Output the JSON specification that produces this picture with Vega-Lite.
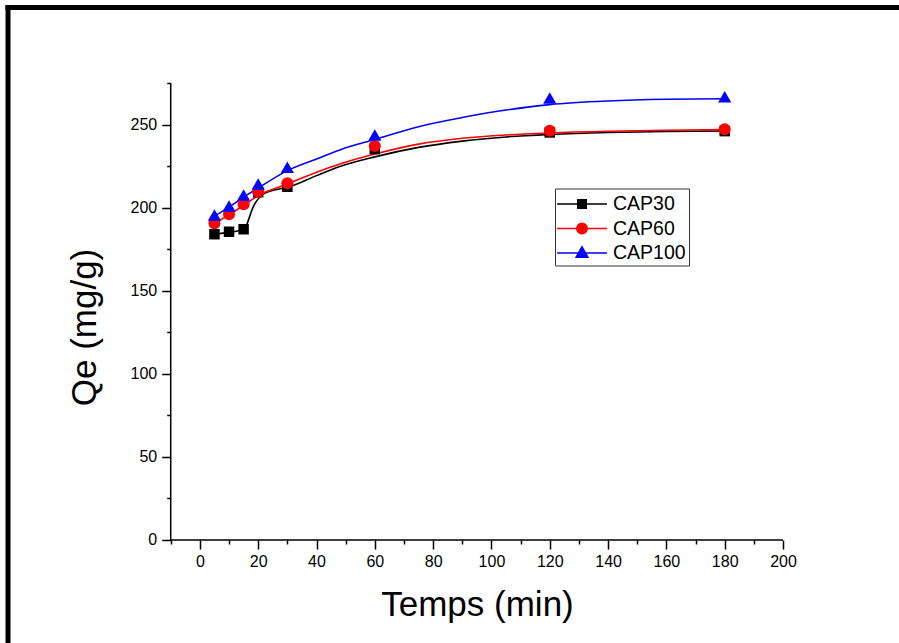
{
  "$schema": "https://vega.github.io/schema/vega-lite/v6.json",
  "width": 899,
  "height": 643,
  "autosize": {"type": "none"},
  "padding": 0,
  "background": "white",
  "config": {"view": {"stroke": null}, "font": "Liberation Sans"},
  "data": {"values": [{"frame": 1}]},
  "datasets": {
    "points": [
      {"series": "CAP30", "t": 5, "q": 184.2},
      {"series": "CAP30", "t": 10, "q": 185.7},
      {"series": "CAP30", "t": 15, "q": 187.2},
      {"series": "CAP30", "t": 20, "q": 209.5},
      {"series": "CAP30", "t": 30, "q": 212.8},
      {"series": "CAP30", "t": 60, "q": 235.5},
      {"series": "CAP30", "t": 120, "q": 245.5},
      {"series": "CAP30", "t": 180, "q": 246.3},
      {"series": "CAP60", "t": 5, "q": 190.8},
      {"series": "CAP60", "t": 10, "q": 196.2},
      {"series": "CAP60", "t": 15, "q": 202.2},
      {"series": "CAP60", "t": 20, "q": 209.8},
      {"series": "CAP60", "t": 30, "q": 214.9},
      {"series": "CAP60", "t": 60, "q": 237.3},
      {"series": "CAP60", "t": 120, "q": 246.6},
      {"series": "CAP60", "t": 180, "q": 247.4},
      {"series": "CAP100", "t": 5, "q": 195.8},
      {"series": "CAP100", "t": 10, "q": 201.2},
      {"series": "CAP100", "t": 15, "q": 207.8},
      {"series": "CAP100", "t": 20, "q": 214.5},
      {"series": "CAP100", "t": 30, "q": 224.5},
      {"series": "CAP100", "t": 60, "q": 244.0},
      {"series": "CAP100", "t": 120, "q": 266.3},
      {"series": "CAP100", "t": 180, "q": 267.0}
    ],
    "curves": [
      {"series": "CAP30", "t": 5, "q": 184.2},
      {"series": "CAP30", "t": 10, "q": 185.3},
      {"series": "CAP30", "t": 13, "q": 186.2},
      {"series": "CAP30", "t": 15, "q": 187.5},
      {"series": "CAP30", "t": 16, "q": 189.5},
      {"series": "CAP30", "t": 17, "q": 194.5},
      {"series": "CAP30", "t": 18, "q": 199.5},
      {"series": "CAP30", "t": 19, "q": 203.0},
      {"series": "CAP30", "t": 20, "q": 205.5},
      {"series": "CAP30", "t": 21, "q": 207.5},
      {"series": "CAP30", "t": 23, "q": 209.5},
      {"series": "CAP30", "t": 26, "q": 211.0},
      {"series": "CAP30", "t": 30, "q": 212.5},
      {"series": "CAP30", "t": 40, "q": 219.5},
      {"series": "CAP30", "t": 48, "q": 225.0},
      {"series": "CAP30", "t": 60, "q": 230.8},
      {"series": "CAP30", "t": 75, "q": 236.5},
      {"series": "CAP30", "t": 90, "q": 240.3},
      {"series": "CAP30", "t": 105, "q": 242.8},
      {"series": "CAP30", "t": 120, "q": 244.3},
      {"series": "CAP30", "t": 140, "q": 245.5},
      {"series": "CAP30", "t": 160, "q": 246.1},
      {"series": "CAP30", "t": 180, "q": 246.4},
      {"series": "CAP60", "t": 5, "q": 190.5},
      {"series": "CAP60", "t": 10, "q": 196.0},
      {"series": "CAP60", "t": 15, "q": 201.5},
      {"series": "CAP60", "t": 20, "q": 207.5},
      {"series": "CAP60", "t": 30, "q": 214.5},
      {"series": "CAP60", "t": 40, "q": 221.5},
      {"series": "CAP60", "t": 48, "q": 226.5},
      {"series": "CAP60", "t": 60, "q": 232.5},
      {"series": "CAP60", "t": 75, "q": 238.5},
      {"series": "CAP60", "t": 90, "q": 242.0},
      {"series": "CAP60", "t": 105, "q": 244.0},
      {"series": "CAP60", "t": 120, "q": 245.2},
      {"series": "CAP60", "t": 140, "q": 246.2},
      {"series": "CAP60", "t": 160, "q": 246.8},
      {"series": "CAP60", "t": 180, "q": 247.2},
      {"series": "CAP100", "t": 5, "q": 195.0},
      {"series": "CAP100", "t": 10, "q": 200.5},
      {"series": "CAP100", "t": 15, "q": 206.5},
      {"series": "CAP100", "t": 20, "q": 212.0},
      {"series": "CAP100", "t": 30, "q": 222.5},
      {"series": "CAP100", "t": 40, "q": 229.5},
      {"series": "CAP100", "t": 48, "q": 235.0},
      {"series": "CAP100", "t": 60, "q": 241.3},
      {"series": "CAP100", "t": 75, "q": 249.0},
      {"series": "CAP100", "t": 90, "q": 254.5},
      {"series": "CAP100", "t": 105, "q": 259.0},
      {"series": "CAP100", "t": 120, "q": 262.3},
      {"series": "CAP100", "t": 140, "q": 264.5},
      {"series": "CAP100", "t": 160, "q": 265.5},
      {"series": "CAP100", "t": 180, "q": 265.8}
    ]
  },
  "resolve": {"axis": {"x": "independent", "y": "independent"}},
  "layer": [
    {
      "mark": {"type": "rule", "color": "black", "strokeWidth": 5},
      "encoding": {
        "x": {"datum": -66.66, "type": "quantitative", "axis": null, "scale": {"domain": [-68.55, 239.78], "nice": false, "zero": false}},
        "x2": {"datum": 239.78},
        "y": {"datum": 320.78, "type": "quantitative", "axis": null, "scale": {"domain": [-62.05, 325.3], "nice": false, "zero": false}}
      }
    },
    {
      "mark": {"type": "rule", "color": "black", "strokeWidth": 5},
      "encoding": {
        "x": {"datum": -65.8, "type": "quantitative", "axis": null},
        "y": {"datum": 322.3, "type": "quantitative", "axis": null},
        "y2": {"datum": -62.05}
      }
    },
    {
      "mark": {"type": "rule", "color": "black", "strokeWidth": 1.5},
      "encoding": {
        "x": {"datum": -10, "type": "quantitative", "axis": {"orient": "bottom", "offset": -103, "values": [-10, 10, 30, 50, 70, 90, 110, 130, 150, 170, 190], "domain": false, "grid": false, "labels": false, "title": null, "tickSize": 4, "tickWidth": 1.5, "tickColor": "black"}},
        "x2": {"datum": 200},
        "y": {"datum": 0, "type": "quantitative", "axis": null}
      }
    },
    {
      "mark": {"type": "rule", "color": "black", "strokeWidth": 1.5},
      "encoding": {
        "x": {"datum": -10, "type": "quantitative", "axis": null},
        "y": {"datum": 0, "type": "quantitative", "axis": {"orient": "left", "offset": -170.7, "values": [25, 75, 125, 175, 225, 275], "domain": false, "grid": false, "labels": false, "title": null, "tickSize": 4, "tickWidth": 1.5, "tickColor": "black"}},
        "y2": {"datum": 275}
      }
    },
    {
      "data": {"name": "curves"},
      "mark": {"type": "line", "strokeWidth": 1.6, "interpolate": "monotone"},
      "encoding": {
        "x": {"field": "t", "type": "quantitative", "axis": {"orient": "bottom", "offset": -103, "values": [0, 20, 40, 60, 80, 100, 120, 140, 160, 180, 200], "domain": false, "grid": false, "tickSize": 9, "tickWidth": 1.5, "tickColor": "black", "labelFontSize": 16, "labelColor": "black", "labelFont": "Liberation Sans", "labelPadding": 4, "labelFlush": false, "labelOverlap": false, "title": "Temps (min)", "titleFont": "Liberation Sans", "titleFontSize": 35, "titleFontWeight": "normal", "titleColor": "black", "titleX": 477, "titleY": 75, "titleAlign": "center", "titleBaseline": "alphabetic", "titleAnchor": null}},
        "y": {"field": "q", "type": "quantitative", "axis": {"orient": "left", "offset": -170.7, "values": [0, 50, 100, 150, 200, 250], "domain": false, "grid": false, "tickSize": 9, "tickWidth": 1.5, "tickColor": "black", "labelFontSize": 16, "labelColor": "black", "labelFont": "Liberation Sans", "labelPadding": 5, "labelFlush": false, "labelOverlap": false, "title": "Qe (mg/g)", "titleFont": "Liberation Sans", "titleFontSize": 35, "titleFontWeight": "normal", "titleColor": "black", "titleAngle": 270, "titleX": -75.7, "titleY": 327, "titleAlign": "center", "titleBaseline": "alphabetic", "titleAnchor": null}},
        "color": {"field": "series", "type": "nominal", "scale": {"domain": ["CAP30", "CAP60", "CAP100"], "range": ["#000000", "#ff0000", "#0000ff"]}},
        "detail": {"field": "series"}
      }
    },
    {
      "data": {"name": "points"},
      "transform": [{"filter": "datum.series === 'CAP30'"}],
      "mark": {"type": "point", "shape": "square", "filled": true, "opacity": 1, "size": 110},
      "encoding": {
        "x": {"field": "t", "type": "quantitative", "axis": null},
        "y": {"field": "q", "type": "quantitative", "axis": null},
        "color": {"field": "series", "type": "nominal"}
      }
    },
    {
      "data": {"name": "points"},
      "transform": [{"filter": "datum.series === 'CAP60'"}],
      "mark": {"type": "point", "shape": "circle", "filled": true, "opacity": 1, "size": 144},
      "encoding": {
        "x": {"field": "t", "type": "quantitative", "axis": null},
        "y": {"field": "q", "type": "quantitative", "axis": null},
        "color": {"field": "series", "type": "nominal"}
      }
    },
    {
      "data": {"name": "points"},
      "transform": [{"filter": "datum.series === 'CAP100'"}],
      "mark": {"type": "point", "shape": "triangle-up", "filled": true, "opacity": 1, "size": 175},
      "encoding": {
        "x": {"field": "t", "type": "quantitative", "axis": null},
        "y": {"field": "q", "type": "quantitative", "axis": null},
        "color": {"field": "series", "type": "nominal"}
      }
    },
    {
      "data": {"name": "points"},
      "transform": [{"filter": "false"}],
      "mark": {"type": "point", "filled": true},
      "encoding": {
        "x": {"field": "t", "type": "quantitative", "axis": null},
        "y": {"field": "q", "type": "quantitative", "axis": null},
        "color": {"field": "series", "type": "nominal", "legend": {
          "orient": "none", "legendX": 555, "legendY": 188.5, "title": null, "direction": "vertical",
          "padding": 3, "strokeColor": "#333333", "fillColor": "white",
          "symbolSize": 529, "symbolStrokeWidth": 1.5, "symbolOffset": 11.5,
          "labelFont": "Liberation Sans", "labelFontSize": 19.5, "labelColor": "black", "labelOffset": 18.5, "labelBaseline": "middle",
          "rowPadding": 2.5,
          "encode": {"symbols": {"update": {"fill": {"scale": "color", "field": "value"}, "stroke": {"scale": "color", "field": "value"}, "shape": {"scale": "shape", "field": "value"}}}}
        }},
        "shape": {"field": "series", "type": "nominal", "legend": {
          "orient": "none", "legendX": 555, "legendY": 188.5, "title": null, "direction": "vertical",
          "padding": 3, "strokeColor": "#333333", "fillColor": "white",
          "symbolSize": 529, "symbolStrokeWidth": 1.5, "symbolOffset": 11.5,
          "labelFont": "Liberation Sans", "labelFontSize": 19.5, "labelColor": "black", "labelOffset": 18.5, "labelBaseline": "middle",
          "rowPadding": 2.5
        }, "scale": {"domain": ["CAP30", "CAP60", "CAP100"], "range": ["M-2.17,0H2.17M-0.37,-0.37H0.37V0.37H-0.37Z", "M-2.17,0H2.17M-0.457,0A0.457,0.457,0,1,0,0.457,0A0.457,0.457,0,1,0,-0.457,0Z", "M-2.17,0H2.17M0,-0.54L0.513,0.37L-0.513,0.37Z"]}}
      }
    }
  ]
}
